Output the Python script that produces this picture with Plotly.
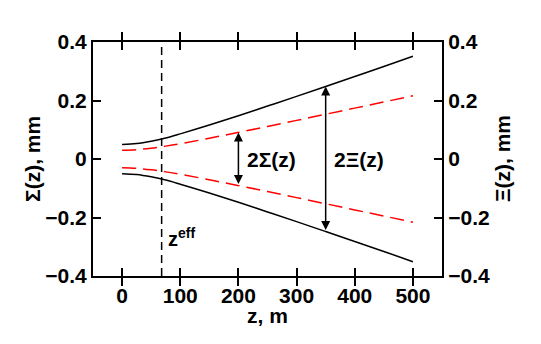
import plotly.graph_objects as go

# beam envelopes (mm), upper halves
z_m = [0, 25, 50, 75, 100, 150, 200, 250, 300, 350, 400, 450, 500]
xi_mm = [0.050, 0.053, 0.061, 0.072, 0.086, 0.116, 0.148, 0.181, 0.214, 0.248, 0.282, 0.316, 0.351]
sigma_mm = [0.030, 0.032, 0.037, 0.044, 0.052, 0.071, 0.091, 0.111, 0.132, 0.153, 0.174, 0.195, 0.216]
z_eff = 68
y_lim = [-0.4, 0.4]
x_lim = [-50, 550]

FONT = "Liberation Sans, Arial, sans-serif"
BLACK = "black"
RED = "#ff0000"

fig = go.Figure()
for sign in (1, -1):
    fig.add_trace(go.Scatter(x=z_m, y=[sign * v for v in xi_mm], mode="lines",
                             line=dict(color=BLACK, width=1.5, shape="spline"), showlegend=False))
    fig.add_trace(go.Scatter(x=z_m, y=[sign * v for v in sigma_mm], mode="lines",
                             line=dict(color=RED, width=1.5, dash="14px,7px", shape="spline"),
                             showlegend=False))

fig.add_trace(go.Scatter(x=[z_eff, z_eff], y=y_lim, mode="lines",
                         line=dict(color=BLACK, width=1.5, dash="8px,5px"), showlegend=False))
# invisible trace so the right axis is drawn
fig.add_trace(go.Scatter(x=[0], y=[0], yaxis="y2", mode="markers", marker=dict(opacity=0),
                         showlegend=False, hoverinfo="skip"))

# double arrows
i_sig = z_m.index(200)
i_xi = z_m.index(350)
for zi, top in ((200, sigma_mm[i_sig]), (350, xi_mm[i_xi])):
    fig.add_annotation(x=zi, y=top, ax=zi, ay=-top, xref="x", yref="y", axref="x", ayref="y",
                       showarrow=True, arrowhead=2, startarrowhead=2, arrowside="end+start",
                       arrowsize=1.2, startarrowsize=1.2, arrowwidth=1.5, arrowcolor=BLACK, text="")

ann_font = dict(family=FONT, size=21, color=BLACK)
fig.add_annotation(x=212, y=0, text="<b>2\u03a3(z)</b>", showarrow=False, xanchor="left",
                   yanchor="middle", font=ann_font)
fig.add_annotation(x=361, y=0, text="<b>2\u039e(z)</b>", showarrow=False, xanchor="left",
                   yanchor="middle", font=ann_font)
fig.add_annotation(x=75, y=-0.27, text="<b>z<sup>eff</sup></b>", showarrow=False, xanchor="left",
                   yanchor="middle", font=dict(family=FONT, size=20, color=BLACK))

# axis titles
fig.add_annotation(x=0.5, y=-0.17, xref="paper", yref="paper", text="<b>z, m</b>",
                   showarrow=False, xanchor="center", yanchor="middle", font=ann_font)
fig.add_annotation(x=-0.175, y=0.5, xref="paper", yref="paper", text="<b>\u03a3(z), mm</b>",
                   textangle=-90, showarrow=False, xanchor="center", yanchor="middle", font=ann_font)
fig.add_annotation(x=1.172, y=0.5, xref="paper", yref="paper", text="<b>\u039e(z), mm</b>",
                   textangle=-90, showarrow=False, xanchor="center", yanchor="middle", font=ann_font)

tick_font = dict(family=FONT, size=21, color=BLACK)
yax = dict(range=y_lim, tick0=0, dtick=0.2, tickprefix="<b>", ticksuffix="</b>",
           ticks="inside", ticklen=8, tickwidth=2, tickcolor=BLACK,
           showline=True, linecolor=BLACK, linewidth=2, showgrid=False, zeroline=False,
           tickfont=tick_font)

fig.update_layout(
    width=533, height=336,
    margin=dict(l=85, r=99, t=34, b=68),
    plot_bgcolor="white", paper_bgcolor="white",
    font=dict(family=FONT, color=BLACK),
    xaxis=dict(range=x_lim, tick0=0, dtick=100, tickprefix="<b>", ticksuffix="</b>",
               ticks="inside", ticklen=8, tickwidth=2, tickcolor=BLACK,
               showline=True, linecolor=BLACK, linewidth=2, mirror="allticks", showgrid=False,
               zeroline=False, tickfont=tick_font),
    yaxis=dict(yax, mirror="allticks"),
    yaxis2=dict(yax, overlaying="y", side="right"),
)

fig.write_html("out.html")
